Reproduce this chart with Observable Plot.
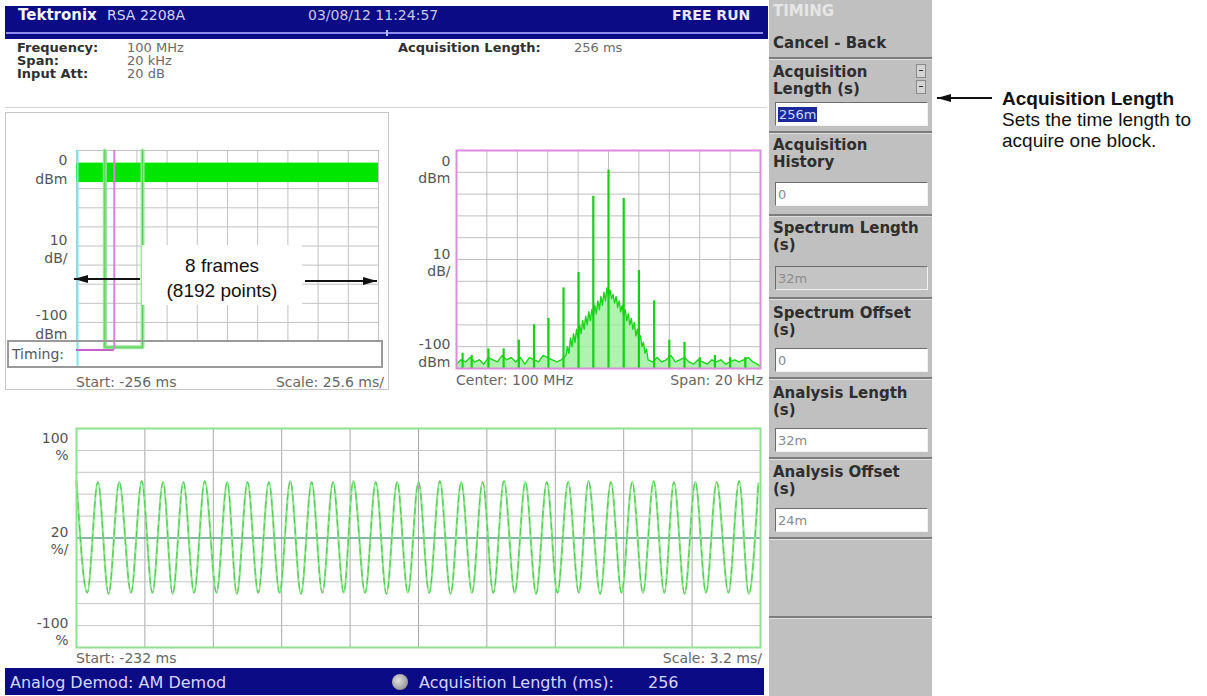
<!DOCTYPE html>
<html><head><meta charset="utf-8">
<script src="https://cdn.jsdelivr.net/npm/d3@7"></script>
<script src="https://cdn.jsdelivr.net/npm/@observablehq/plot@0.6"></script>
<style>
html,body{margin:0;padding:0;background:#fff;}
body{width:1207px;height:696px;position:relative;overflow:hidden;font-family:"DejaVu Sans",sans-serif;}
.a{position:absolute;white-space:nowrap;line-height:1;}
.mid{transform:translateY(-50%);}
.navy{background:#0b0b86;}
.btn{font-family:"DejaVu Sans",sans-serif;font-weight:bold;font-size:15px;color:#2e2e2e;}
.box{background:#fff;border-top:1px solid #6c6c6c;border-left:1px solid #6c6c6c;border-bottom:1px solid #f2f2f2;border-right:1px solid #f2f2f2;box-sizing:border-box;font-size:13px;color:#8a8a8a;padding-left:2px;display:flex;align-items:center;}
.sep{height:2px;background:#7c7c7c;border-bottom:1px solid #dedede;}
.note{font-family:"Liberation Sans",Arial,sans-serif;color:#111;}
</style></head><body>
<script>
// ---------------- data ----------------
const headerTitle = ["Tektronix", "RSA 2208A"];
const headerDate = "03/08/12 11:24:57";
const headerMode = "FREE RUN";
const infoLabels = ["Frequency:", "Span:", "Input Att:"];
const infoValues = ["100 MHz", "20 kHz", "20 dB"];
const acqLabel = "Acquisition Length:";
const acqValue = "256 ms";

// timing overview (left)
const overviewGridMs = [-256, -230.4, -204.8, -179.2, -153.6, -128, -102.4, -76.8, -51.2, -25.6, 0];
const levelGridDbm = [0, -10, -20, -30, -40, -50, -60, -70, -80, -90, -100];
const acquisitionMs = [-256, 0];
const spectrumWindowMs = [-256, -224];
const analysisWindowMs = [-232, -200];
const overviewBandDbm = [-16.8, -6.6];
const levelLabelText = ["0\ndBm", "10\ndB/", "-100\ndBm"];
const levelLabelAt = [0, -51, -100];

// spectrum (middle)
const spectrumGridKHz = [-10, -8, -6, -4, -2, 0, 2, 4, 6, 8, 10];
const spurKHz = [-9.6, -9.0, -7.9, -6.9, -5.9, -4.9, -3.95, -2.96, -1.97, -1.0, 0, 1.0, 2.0, 3.0, 4.0, 5.0, 6.0, 7.0, 8.0, 9.0];
const spurDbm = [-93, -94, -91, -91, -87, -80, -77, -63, -56, -21, -9, -22, -55, -69, -87, -88, -95, -94, -95, -95];
const floorKHz = [-10, -9.7, -9.4, -9.1, -8.8, -8.5, -8.2, -7.9, -7.6, -7.3, -7.0, -6.7, -6.4, -6.1, -5.8, -5.5, -5.2, -4.9, -4.6, -4.3, -4.0, -3.7, -3.4, -3.1,
  -2.8, -2.7, -2.6, -2.5, -2.4, -2.3, -2.2, -2.1, -2.0, -1.9, -1.8, -1.7, -1.6, -1.5, -1.4, -1.3, -1.2, -1.1, -1.0, -0.9, -0.8, -0.7, -0.6, -0.5, -0.4, -0.3, -0.2, -0.1,
  0.0, 0.1, 0.2, 0.3, 0.4, 0.5, 0.6, 0.7, 0.8, 0.9, 1.0, 1.1, 1.2, 1.3, 1.4, 1.5, 1.6, 1.7, 1.8, 1.9, 2.0, 2.1, 2.2, 2.3, 2.4, 2.5, 2.6,
  2.9, 3.2, 3.5, 3.8, 4.1, 4.4, 4.7, 5.0, 5.3, 5.6, 5.9, 6.2, 6.5, 6.8, 7.1, 7.4, 7.7, 8.0, 8.3, 8.6, 8.9, 9.2, 9.5, 9.8, 10];
const floorDbm = [-98, -96, -97, -95, -97, -96, -98, -95, -96, -97, -94, -96, -95, -97, -95, -98, -95, -96, -97, -94, -95, -96, -97, -96,
  -94, -90, -93, -86, -90, -84, -88, -82, -86, -80, -84, -78, -82, -76, -80, -74, -78, -73, -76, -71, -75, -69, -73, -67, -71, -65, -69, -63,
  -67, -64, -68, -66, -70, -67, -72, -69, -74, -71, -76, -73, -78, -75, -80, -77, -82, -79, -85, -82, -87, -85, -90, -88, -93, -91, -96,
  -97, -95, -97, -96, -94, -97, -96, -95, -97, -98, -96, -97, -98, -96, -97, -96, -98, -97, -96, -97, -96, -95, -97, -98, -99];

// AM demod (bottom)
const demodGridMs = [-232, -228.8, -225.6, -222.4, -219.2, -216, -212.8, -209.6, -206.4, -203.2, -200];
const demodGridPct = [100, 80, 60, 40, 20, 0, -20, -40, -60, -80, -100];
const demodLabelText = ["100\n%", "20\n%/", "-100\n%"];
const demodLabelAt = [100, 0, -100];
const peakMs = [-232, -231, -230, -228.95, -227.95, -227, -226, -224.95, -224, -223, -222, -221, -220, -219.05, -218, -217, -216, -215, -214, -213, -212, -211, -210, -209, -208.05, -207, -206, -205, -204.05, -203.05, -202.05, -201, -200.1];
const peakPct = [52, 51, 51, 52, 51, 51, 52, 51, 51, 51, 52, 51, 51, 52, 51, 51, 51, 52, 51, 51, 52, 51, 51, 51, 52, 51, 51, 52, 51, 51, 51, 52, 50];
const troughMs = [-231.5, -230.5, -229.45, -228.45, -227.5, -226.5, -225.45, -224.5, -223.5, -222.5, -221.5, -220.5, -219.5, -218.5, -217.5, -216.5, -215.5, -214.5, -213.5, -212.5, -211.5, -210.5, -209.5, -208.5, -207.5, -206.5, -205.5, -204.5, -203.55, -202.55, -201.5, -200.55];
const troughPct = [-50, -51, -50, -50, -51, -50, -50, -51, -50, -50, -51, -50, -50, -50, -51, -50, -50, -51, -50, -50, -50, -51, -50, -50, -51, -50, -50, -50, -51, -50, -50, -51];

// side menu
const menuTitle = "TIMING";
const menuBack = "Cancel - Back";
const menuLabels = [["Acquisition", "Length (s)"], ["Acquisition", "History"], ["Spectrum Length", "(s)"], ["Spectrum Offset", "(s)"], ["Analysis Length", "(s)"], ["Analysis Offset", "(s)"]];
const menuValues = ["256m", "0", "32m", "0", "32m", "24m"];
const menuState = ["selected", "edit", "disabled", "edit", "edit", "edit"];

// ---------------- helpers ----------------
function el(cls, css, html) {
  const d = document.createElement("div");
  d.className = "a " + (cls || "");
  d.style.cssText = css;
  if (html != null) d.textContent = html;
  document.body.appendChild(d);
  return d;
}
const mono = "DejaVu Sans";
const anchors = ["top", "middle", "bottom"];
function axisLabels(texts, at, x0, dx, dyList, lh) {
  return texts.map((t, i) => Plot.text([t], {x: x0, y: at[i], text: d => d, dx, dy: dyList[i],
    textAnchor: "end", lineAnchor: anchors[i], lineHeight: lh, fontFamily: mono, fontSize: 14, fill: "#555"}));
}

// ---------------- header ----------------
el("navy", "left:5px;top:6px;width:763px;height:33px;");
el("", "left:6px;top:32px;width:757px;height:2px;background:#8c8cf0;");
el("", "left:386px;top:30px;width:2px;height:6px;background:#b8b8ff;");
el("mid", "left:18px;top:15px;font:bold 15px 'DejaVu Sans';color:#f4f4ff;", headerTitle[0]);
el("mid", "left:107px;top:15px;font:14px 'DejaVu Sans';color:#d4d4ee;", headerTitle[1]);
el("mid", "left:308px;top:15px;font:14px 'DejaVu Sans';color:#c8c8e0;", headerDate);
el("mid", "left:672px;top:15px;font:bold 14px 'DejaVu Sans';color:#e8e8f8;", headerMode);

infoLabels.forEach((t, i) => {
  el("mid", `left:17px;top:${47 + i * 13}px;font:bold 13px 'DejaVu Sans';color:#303030;`, t);
  el("mid", `left:127px;top:${47 + i * 13}px;font:13px 'DejaVu Sans';color:#6a6a6a;`, infoValues[i]);
});
el("mid", "left:398px;top:47px;font:bold 13px 'DejaVu Sans';color:#303030;", acqLabel);
el("mid", "left:574px;top:47px;font:13px 'DejaVu Sans';color:#6a6a6a;", acqValue);
el("", "left:5px;top:107px;width:762px;height:1px;background:#d4d4d4;");

// ---------------- left timing overview ----------------
el("", "left:5px;top:112px;width:382px;height:276px;border:1px solid #c6c6c6;");
const analysisBox = [[analysisWindowMs[0], 0], [analysisWindowMs[0], -103], [analysisWindowMs[1], -103], [analysisWindowMs[1], 0]];
const leftPlot = Plot.plot({
  width: 382, height: 275,
  marginLeft: 70, marginRight: 10, marginTop: 37, marginBottom: 47,
  x: {domain: acquisitionMs, axis: null},
  y: {domain: [-100, 0], axis: null},
  style: {background: "transparent", overflow: "visible"},
  marks: [
    Plot.ruleX(overviewGridMs, {stroke: "#c2c2c2", strokeWidth: 1}),
    Plot.ruleY(levelGridDbm, {stroke: "#c2c2c2", strokeWidth: 1}),
    Plot.rect([overviewBandDbm], {x1: acquisitionMs[0], x2: acquisitionMs[1], y1: d => d[0], y2: d => d[1], fill: "#00e600"}),
    Plot.line(analysisBox, {x: d => d[0], y: d => d[1], stroke: "#96e896", strokeWidth: 4}),
    Plot.line(analysisBox, {x: d => d[0], y: d => d[1], stroke: "#55cc55", strokeWidth: 1}),
    Plot.ruleX([acquisitionMs[0]], {y1: 0, y2: -113, stroke: "#7ee4ee", strokeWidth: 2, dx: 1}),
    Plot.ruleX([spectrumWindowMs[1]], {y1: 0, y2: -104.5, stroke: "#e07ee0", strokeWidth: 2}),
    Plot.ruleY([-104.5], {x1: spectrumWindowMs[0], x2: spectrumWindowMs[1], stroke: "#c860c8", strokeWidth: 2}),
    ...axisLabels(levelLabelText, levelLabelAt, acquisitionMs[0], -9, [2, 0, -3], 1.3)
  ]
});
leftPlot.style.position = "absolute"; leftPlot.style.left = "6px"; leftPlot.style.top = "113px";
document.body.appendChild(leftPlot);
el("", "left:7px;top:340px;width:376px;height:28px;border:2px solid #9a9a9a;box-sizing:border-box;");
el("mid", "left:12px;top:354px;font:14px 'DejaVu Sans';color:#555;", "Timing:");
el("mid", "left:76px;top:382px;font:14px 'DejaVu Sans';color:#666;", "Start: -256 ms");
el("mid", "right:823px;top:382px;font:14px 'DejaVu Sans';color:#666;", "Scale: 25.6 ms/");

// ---------------- spectrum ----------------
const spurs = spurKHz.map((f, i) => ({f, db: spurDbm[i]}));
const floorTrace = floorKHz.map((f, i) => ({f, db: floorDbm[i]}));
const specPlot = Plot.plot({
  width: 375, height: 270,
  marginLeft: 66, marginRight: 5, marginTop: 30, marginBottom: 22,
  x: {domain: [-10, 10], axis: null},
  y: {domain: [-100, 0], axis: null},
  style: {background: "transparent", overflow: "visible"},
  marks: [
    Plot.ruleX(spectrumGridKHz, {stroke: "#bfbfbf"}),
    Plot.ruleY(levelGridDbm, {stroke: "#bfbfbf"}),
    Plot.areaY(floorTrace, {x: "f", y1: -100, y2: "db", fill: "#9cf09c", fillOpacity: 0.8}),
    Plot.line(floorTrace, {x: "f", y: "db", stroke: "#1ed41e", strokeWidth: 1.4}),
    Plot.ruleX(spurs, {x: "f", y1: -100, y2: "db", stroke: "#16d016", strokeWidth: 2.2}),
    Plot.frame({stroke: "#dc8cdc", strokeWidth: 2}),
    ...axisLabels(levelLabelText, levelLabelAt, -10, -6, [3, 0, -2], 1.25)
  ]
});
specPlot.style.position = "absolute"; specPlot.style.left = "390px"; specPlot.style.top = "120px";
document.body.appendChild(specPlot);
el("mid", "left:456px;top:380px;font:14px 'DejaVu Sans';color:#666;", "Center: 100 MHz");
el("mid", "right:444px;top:380px;font:14px 'DejaVu Sans';color:#666;", "Span: 20 kHz");

// ---------------- AM demod ----------------
const demod = peakMs.map((t, i) => ({t, v: peakPct[i]}))
  .concat(troughMs.map((t, i) => ({t, v: troughPct[i]})))
  .sort((a, b) => a.t - b.t);
const demodPlot = Plot.plot({
  width: 759, height: 250,
  marginLeft: 70, marginRight: 5, marginTop: 13, marginBottom: 18,
  x: {domain: [-232, -200], axis: null},
  y: {domain: [-100, 100], axis: null},
  style: {background: "transparent", overflow: "visible"},
  marks: [
    Plot.ruleX(demodGridMs, {stroke: "#a8a8a8"}),
    Plot.ruleY(demodGridPct, {stroke: "#c4c4c4"}),
    Plot.ruleY([0], {stroke: "#2f8a72", strokeWidth: 1.2}),
    Plot.line(demod, {x: "t", y: "v", curve: "monotone-x", stroke: "#8ce68c", strokeWidth: 2.2}),
    Plot.line(demod, {x: "t", y: "v", curve: "monotone-x", stroke: "#3cbf3c", strokeWidth: 0.8, strokeDasharray: "6,5"}),
    Plot.frame({stroke: "#8fe08f", strokeWidth: 2}),
    ...axisLabels(demodLabelText, demodLabelAt, -232, -8, [3, 2, -3], 1.2)
  ]
});
demodPlot.style.position = "absolute"; demodPlot.style.left = "6px"; demodPlot.style.top = "415px";
document.body.appendChild(demodPlot);
el("mid", "left:76px;top:658px;font:14px 'DejaVu Sans';color:#666;", "Start: -232 ms");
el("mid", "right:445px;top:658px;font:14px 'DejaVu Sans';color:#666;", "Scale: 3.2 ms/");

// bottom status bar
el("navy", "left:5px;top:668px;width:759px;height:27px;");
el("mid", "left:10px;top:682px;font:16px 'DejaVu Sans';color:#d6d6ff;", "Analog Demod: AM Demod");
el("", "left:392px;top:674px;width:16px;height:16px;border-radius:50%;background:radial-gradient(circle at 40% 40%,#e0e0e0,#7a7a7a);");
el("mid", "left:419px;top:682px;font:16px 'DejaVu Sans';color:#d6d6ff;", "Acquisition Length (ms):");
el("mid", "left:648px;top:682px;font:16px 'DejaVu Sans';color:#d6d6ff;", "256");

// ---------------- side menu ----------------
el("", "left:769px;top:0px;width:163px;height:696px;background:#c0c0c0;");
el("btn mid", "left:773px;top:11px;color:#e6e6e6;", menuTitle);
el("btn mid", "left:773px;top:43px;", menuBack);
const sepTops = [57, 131, 214, 297, 377, 457, 537, 616];
sepTops.forEach(t => el("sep", `left:769px;top:${t}px;width:163px;`));
const lab1 = [72, 145, 228, 313, 393, 472];
const boxTop = [102, 182, 266, 348, 428, 508];
menuLabels.forEach((ls, i) => {
  el("btn mid", `left:773px;top:${lab1[i]}px;`, ls[0]);
  el("btn mid", `left:773px;top:${lab1[i] + 17}px;`, ls[1]);
  const b = el("box", `left:775px;top:${boxTop[i]}px;width:153px;height:24px;` +
    (menuState[i] === "disabled" ? "background:#c4c4c4;color:#8c8c8c;" : ""));
  if (menuState[i] === "selected") {
    const s = document.createElement("span");
    s.textContent = menuValues[i];
    s.style.cssText = "background:#1a2a9a;color:#cfd8ff;padding:1px 1px;";
    b.appendChild(s);
  } else b.textContent = menuValues[i];
});
// scroll buttons
el("", "left:916px;top:64px;width:10px;height:14px;background:#d4d4d4;border:1px solid #8a8a8a;box-sizing:border-box;");
el("", "left:916px;top:80px;width:10px;height:14px;background:#d4d4d4;border:1px solid #8a8a8a;box-sizing:border-box;");
el("", "left:919px;top:70px;width:4px;height:1px;background:#333;");
el("", "left:919px;top:86px;width:4px;height:1px;background:#333;");

// ---------------- callouts ----------------
el("", "left:142px;top:245px;width:160px;height:60px;background:#fff;");
el("note mid", "left:142px;top:265px;width:160px;text-align:center;font-size:19px;", "8 frames");
el("note mid", "left:142px;top:290px;width:160px;text-align:center;font-size:19px;", "(8192 points)");
function arrow(x1, x2, y) { // horizontal arrow, head at x2
  const left = Math.min(x1, x2), w = Math.abs(x2 - x1);
  el("", `left:${left}px;top:${y - 1}px;width:${w}px;height:2px;background:#111;`);
  const dir = x2 < x1 ? "right" : "left";
  const hx = x2 < x1 ? x2 : x2 - 14;
  el("", `left:${hx}px;top:${y - 4}px;width:0;height:0;border-top:4px solid transparent;border-bottom:4px solid transparent;border-${dir}:14px solid #111;`);
}
arrow(140, 74, 279);
arrow(305, 377, 281);
arrow(992, 937, 98);
el("note mid", "left:1002px;top:98px;font-size:19px;font-weight:bold;", "Acquisition Length");
el("note mid", "left:1002px;top:119px;font-size:19px;", "Sets the time length to");
el("note mid", "left:1002px;top:140px;font-size:19px;", "acquire one block.");
</script>
</body></html>
